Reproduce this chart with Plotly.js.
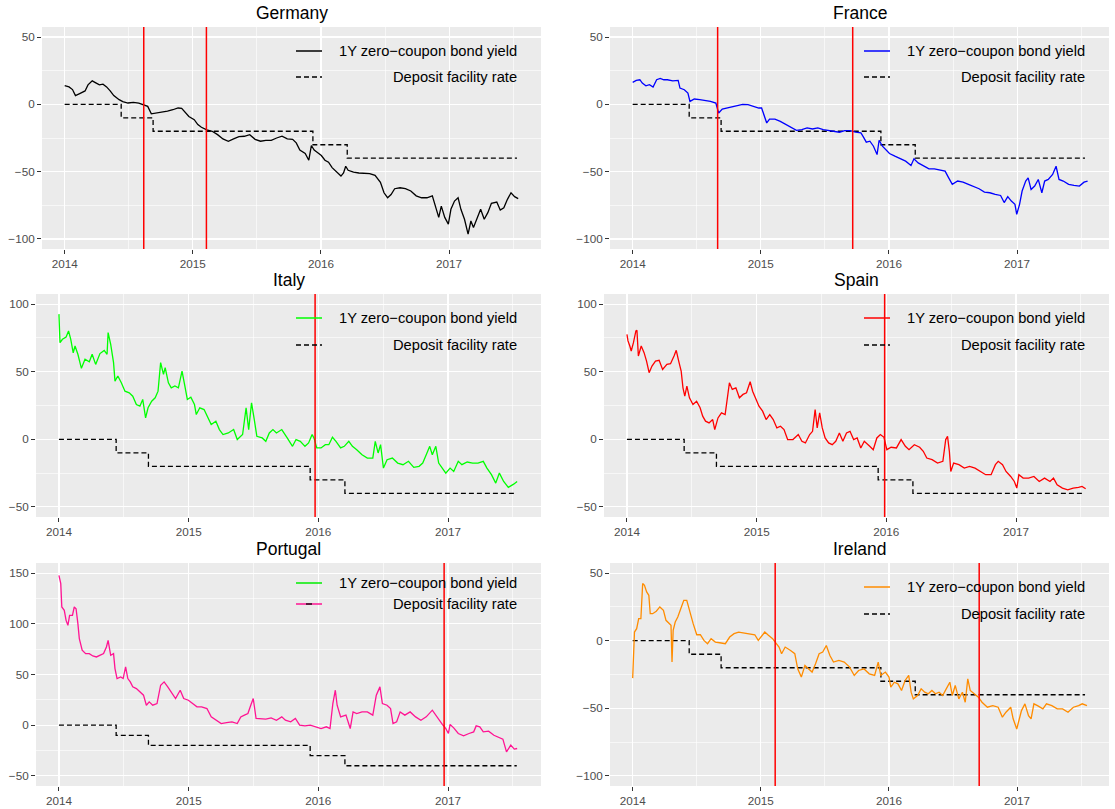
<!DOCTYPE html>
<html>
<head>
<meta charset="utf-8">
<script src="https://cdn.plot.ly/plotly-3.0.1.min.js"></script>
<style>html,body{margin:0;padding:0;background:#fff;}#chart{width:1115px;height:809px;}</style>
</head>
<body>
<div id="chart"></div>
<script>
// ---------------- DATA (x in decimal years) ----------------
const countries = ['Germany','France','Italy','Spain','Portugal','Ireland'];
const xTickVals = [2014, 2015, 2016, 2017];
const xTickText = ['2014', '2015', '2016', '2017'];
const xMinorVals = [2014.5, 2015.5, 2016.5, 2017.5];
const legendLabels = ['1Y zero\u2212coupon bond yield', 'Deposit facility rate'];

// ECB deposit facility rate (bp), step changes
const depX = [2014.0, 2014.441, 2014.690, 2015.937, 2016.205, 2017.53];
const depY = [0, -10, -20, -30, -40, -40];

// y-axis limits per country
const deLim = [-100, 50], frLim = [-100, 50], itLim = [-50, 100], esLim = [-50, 100], ptLim = [-50, 150], ieLim = [-100, 50];

// event dates (red vertical lines)
const deEvents = [2014.617, 2015.106];
const frEvents = [2014.663, 2015.717];
const itEvents = [2015.975];
const esEvents = [2015.987];
const ptEvents = [2016.970];
const ieEvents = [2015.112, 2016.704];

// Germany
const deX = [2014.000,2014.034,2014.061,2014.084,2014.117,2014.159,2014.182,2014.215,2014.243,2014.271,
2014.299,2014.327,2014.355,2014.383,2014.425,2014.453,2014.494,2014.536,2014.578,2014.620,
2014.648,2014.676,2014.718,2014.760,2014.802,2014.844,2014.885,2014.913,2014.941,2014.969,
2015.011,2015.039,2015.067,2015.109,2015.151,2015.193,2015.235,2015.277,2015.318,2015.360,
2015.402,2015.444,2015.486,2015.528,2015.570,2015.612,2015.654,2015.696,2015.737,2015.779,
2015.807,2015.835,2015.877,2015.905,2015.925,2015.947,2015.975,2016.003,2016.031,2016.059,
2016.087,2016.128,2016.156,2016.176,2016.193,2016.212,2016.254,2016.296,2016.338,2016.380,
2016.422,2016.464,2016.492,2016.520,2016.547,2016.575,2016.617,2016.659,2016.701,2016.743,
2016.785,2016.827,2016.869,2016.897,2016.919,2016.939,2016.966,2016.994,2017.014,2017.042,
2017.070,2017.092,2017.120,2017.148,2017.170,2017.190,2017.218,2017.246,2017.274,2017.302,
2017.330,2017.372,2017.399,2017.427,2017.455,2017.483,2017.511,2017.539];
const deY = [14,13,11,6.5,8,10,14.5,17.5,16,14.5,
15,13,10,6.5,3.5,2,1,1.5,1,-0.5,
-1.5,-7,-6.4,-6,-5,-4,-2.7,-3,-6.4,-9,
-11.4,-15,-17,-19,-20,-22.5,-25.7,-27.4,-25.7,-24,
-23.7,-22.5,-26,-27.4,-26.7,-26.7,-25,-23.7,-25.7,-26,
-28.6,-34,-36.5,-41.5,-30.6,-34,-36,-38,-41.5,-43,
-47,-51,-53.3,-51,-46,-49,-50.4,-51,-51,-51.4,
-52.8,-58,-65.7,-69.4,-67,-62.7,-62,-62.7,-64.4,-68,
-69.4,-69.4,-68,-76.8,-84,-75.6,-84,-89,-78,-71.9,
-69.4,-78,-85.4,-96.5,-86.7,-91.6,-85.4,-78,-85.4,-80.5,
-73.6,-72.6,-78.5,-76.8,-70.6,-65.7,-68.6,-70];

// France
const frX = [2014.000,2014.028,2014.056,2014.075,2014.103,2014.131,2014.159,2014.187,2014.215,2014.243,
2014.271,2014.313,2014.355,2014.369,2014.403,2014.431,2014.447,2014.481,2014.523,2014.565,
2014.607,2014.649,2014.671,2014.699,2014.732,2014.774,2014.816,2014.858,2014.900,2014.942,
2014.984,2015.006,2015.026,2015.046,2015.068,2015.110,2015.152,2015.194,2015.236,2015.278,
2015.320,2015.361,2015.403,2015.445,2015.487,2015.529,2015.571,2015.613,2015.655,2015.697,
2015.739,2015.781,2015.800,2015.823,2015.851,2015.879,2015.907,2015.923,2015.949,2015.977,
2016.004,2016.046,2016.088,2016.130,2016.172,2016.195,2016.228,2016.270,2016.312,2016.354,
2016.396,2016.438,2016.466,2016.494,2016.536,2016.578,2016.620,2016.661,2016.703,2016.745,
2016.787,2016.829,2016.871,2016.899,2016.927,2016.955,2016.983,2016.997,2017.019,2017.039,
2017.067,2017.086,2017.109,2017.137,2017.165,2017.193,2017.215,2017.243,2017.277,2017.304,
2017.327,2017.360,2017.402,2017.444,2017.486,2017.522,2017.550];
const frY = [16.3,17.8,18.3,15.8,13.8,14.6,12.8,18.3,19.3,18.3,
18.3,17.5,17.8,12.1,10.9,8.4,2.2,4,3.5,3,
2.2,1,-6.4,-3.5,-2.7,-2,-1,0,-0.2,-1.5,
-2.7,-2.7,-8.9,-13.8,-10.9,-10.9,-12.6,-15,-17,-19.3,
-18.8,-17.5,-18.3,-17.5,-18.8,-19.5,-20.5,-20.7,-19.5,-19.5,
-20.7,-21.2,-24.2,-28.1,-27.4,-31.1,-37.3,-26.7,-31.1,-34,
-36.5,-38.5,-40.5,-42.2,-45.4,-40.5,-43.5,-46,-47.9,-47.9,
-48.9,-49.6,-54.6,-59.5,-57,-57.8,-59.5,-61.2,-62.7,-65.2,
-65.7,-66.9,-67.7,-73,-68.6,-71.9,-74.3,-81.7,-74.3,-64.4,
-57,-54.6,-63.2,-60.7,-55.8,-65.7,-57,-55.8,-52.1,-46,
-55.8,-57,-59.5,-60.2,-60.7,-57.8,-57];

// Italy
const itX = [2014.000,2014.008,2014.027,2014.055,2014.074,2014.091,2014.110,2014.124,2014.146,2014.173,
2014.201,2014.234,2014.256,2014.283,2014.316,2014.349,2014.371,2014.379,2014.399,2014.421,
2014.432,2014.454,2014.481,2014.509,2014.542,2014.569,2014.597,2014.624,2014.646,2014.668,
2014.687,2014.715,2014.742,2014.764,2014.784,2014.806,2014.819,2014.844,2014.866,2014.894,
2014.921,2014.949,2014.971,2014.990,2015.017,2015.045,2015.059,2015.086,2015.119,2015.147,
2015.174,2015.210,2015.237,2015.265,2015.306,2015.347,2015.375,2015.416,2015.443,2015.463,
2015.485,2015.504,2015.526,2015.567,2015.595,2015.622,2015.650,2015.677,2015.718,2015.760,
2015.801,2015.828,2015.861,2015.897,2015.925,2015.952,2015.966,2015.988,2016.021,2016.054,
2016.081,2016.109,2016.136,2016.172,2016.200,2016.235,2016.263,2016.296,2016.337,2016.378,
2016.420,2016.439,2016.461,2016.480,2016.502,2016.530,2016.571,2016.612,2016.653,2016.695,
2016.736,2016.777,2016.805,2016.832,2016.859,2016.879,2016.906,2016.928,2016.956,2016.983,
2017.016,2017.044,2017.079,2017.107,2017.148,2017.190,2017.231,2017.272,2017.300,2017.335,
2017.368,2017.396,2017.429,2017.465,2017.506,2017.533];
const itY = [92.6,71.5,74,75.7,80.2,74,64,69,62.9,52.5,
59.2,57.4,62.9,55.4,63.4,65.8,62.9,79,70.3,56.7,
43,46.8,41.8,35.6,34.4,31.9,25.7,24.5,29.5,15.8,
23.3,28.2,30.7,35.6,56.7,48,53,41.8,38.1,39.4,
38.1,50.5,39.4,29.5,31.2,25.7,18.3,23.3,22,15.8,
10.9,13.4,7.2,3.5,4.7,7.2,-0.2,3.5,23.3,7.2,
27,15.8,2.2,1,-1.5,4.7,7.2,4.7,7.2,1,
-5.2,-0.2,-1.5,-5.2,-2.7,3.5,1,-6.4,-6.4,-4,
-4,1.5,-1.5,-6.4,-5.2,-1.5,-5.2,-7.7,-11.4,-13.9,
-13.9,-1.5,-10.1,-4,-21.3,-15.1,-13.9,-17.6,-18.8,-16.3,
-20.8,-20,-17.6,-11.4,-5.2,-11.4,-5.2,-17.6,-21.3,-25,
-21.3,-23.8,-16.3,-18.8,-16.8,-17.6,-17.6,-16.3,-21.3,-26.2,
-32.4,-25,-31.2,-35.6,-33.2,-31.2];

// Spain
const esX = [2014.000,2014.008,2014.022,2014.033,2014.050,2014.069,2014.077,2014.088,2014.110,2014.132,
2014.151,2014.171,2014.193,2014.220,2014.248,2014.275,2014.308,2014.336,2014.363,2014.380,
2014.399,2014.418,2014.432,2014.446,2014.462,2014.482,2014.509,2014.537,2014.564,2014.584,
2014.606,2014.633,2014.661,2014.677,2014.702,2014.729,2014.757,2014.771,2014.790,2014.812,
2014.840,2014.867,2014.895,2014.922,2014.950,2014.969,2014.991,2015.018,2015.046,2015.073,
2015.101,2015.128,2015.156,2015.184,2015.211,2015.239,2015.280,2015.321,2015.349,2015.376,
2015.409,2015.431,2015.451,2015.467,2015.486,2015.506,2015.528,2015.555,2015.583,2015.610,
2015.638,2015.665,2015.693,2015.720,2015.748,2015.775,2015.803,2015.830,2015.872,2015.899,
2015.927,2015.954,2015.982,2016.004,2016.037,2016.078,2016.114,2016.147,2016.175,2016.216,
2016.257,2016.285,2016.312,2016.353,2016.395,2016.436,2016.458,2016.472,2016.486,2016.497,
2016.519,2016.560,2016.601,2016.642,2016.684,2016.725,2016.766,2016.808,2016.841,2016.863,
2016.896,2016.923,2016.959,2016.987,2017.006,2017.022,2017.055,2017.097,2017.138,2017.179,
2017.220,2017.262,2017.289,2017.317,2017.358,2017.399,2017.441,2017.482,2017.509,2017.537];
const esY = [77.7,72.8,69,65.3,71.5,80.2,80.7,61.6,69,64.1,
57.9,49.3,54.2,57.9,58.4,51.7,55.4,55.9,61.6,65.8,
57.9,50.5,38.1,31.9,39.4,30.7,25.7,28.2,23.3,17.1,
13.4,12.1,14.6,7.2,15.8,19.6,18.3,28.2,41.8,36.9,
38.1,30.7,33.2,34.4,42.6,35.6,30.7,24.5,20.8,14.6,
18.3,14.6,8.4,9.7,7.2,-0.2,-0.2,3.5,-1.5,-2.7,
3.5,5.9,22,8.4,19.6,8.4,1,-2.7,-4,-1.5,
4.7,-1.5,4.7,5.9,-0.2,1,-6.4,-1.5,-5.2,-7.7,
1,3.5,1.5,-7.7,-5.9,-6.4,-0.2,-5.2,-7.7,-4,
-5.9,-8.9,-13.9,-15.1,-17.6,-16.3,-0.2,2.2,-8.9,-23.8,
-17.6,-18.8,-21.3,-20,-21.3,-23.8,-26.2,-26.2,-18.8,-16.3,
-18.8,-23.8,-27.5,-31.2,-36.1,-26.2,-28.7,-28.7,-27.5,-31.2,
-28.7,-31.2,-28.7,-33.7,-36.1,-37.4,-36.1,-35.6,-34.9,-36.6];

// Portugal
const ptX = [2014.000,2014.014,2014.022,2014.041,2014.055,2014.069,2014.082,2014.104,2014.118,2014.132,
2014.146,2014.157,2014.179,2014.206,2014.234,2014.261,2014.289,2014.316,2014.344,2014.366,
2014.379,2014.399,2014.421,2014.432,2014.448,2014.476,2014.495,2014.514,2014.531,2014.550,
2014.569,2014.597,2014.624,2014.652,2014.674,2014.696,2014.723,2014.756,2014.784,2014.811,
2014.839,2014.866,2014.899,2014.935,2014.962,2014.998,2015.031,2015.064,2015.100,2015.141,
2015.174,2015.210,2015.251,2015.292,2015.334,2015.375,2015.402,2015.430,2015.457,2015.479,
2015.498,2015.520,2015.553,2015.595,2015.636,2015.677,2015.718,2015.746,2015.787,2015.823,
2015.856,2015.897,2015.938,2015.980,2016.021,2016.062,2016.090,2016.112,2016.131,2016.145,
2016.172,2016.213,2016.246,2016.268,2016.296,2016.337,2016.378,2016.420,2016.447,2016.475,
2016.494,2016.530,2016.557,2016.576,2016.604,2016.631,2016.667,2016.708,2016.750,2016.791,
2016.832,2016.879,2016.914,2016.956,2016.983,2017.003,2017.016,2017.044,2017.079,2017.120,
2017.162,2017.198,2017.217,2017.245,2017.272,2017.313,2017.354,2017.396,2017.423,2017.451,
2017.484,2017.511,2017.533];
const ptY = [147.8,139.6,116.6,113.3,103.4,98.5,108.4,108.4,116.6,114.9,
100.2,85.4,73.9,70.6,70.6,68.3,67.3,69,70.6,77.2,
83.7,69,70.6,55.8,46,47.6,46,57.5,46,42.7,
37.8,36.1,32.8,29.6,19.7,23,19.7,21.3,39.4,42.7,
37.8,32.8,26.3,34.5,26.3,24.6,21.3,18.1,18.1,16.4,
8.2,4.9,1.6,2.6,3.3,1.6,8.2,9.9,11.5,19.7,
26.3,6.6,6.6,5.9,7.2,4.9,8.2,4.9,3.3,6.6,
0,-0.7,0,-1.6,-3.3,-1.6,-3.3,21.3,34.5,19.7,
8.2,9.9,-3.3,13.1,11.5,13.1,13.1,9.9,29.6,37.8,
21.3,19.7,16.4,1.6,3.3,13.1,9.9,13.1,8.2,4.9,
8.2,14.8,8.2,0.7,-3.3,-8.2,0.7,-2.6,-8.2,-10.5,
-8.2,-6.6,-0.7,-1.6,-6.6,-5.9,-9.9,-12.5,-13.8,-26.3,
-19.7,-23.6,-23];

// Ireland
const ieX = [2014.000,2014.006,2014.014,2014.031,2014.047,2014.064,2014.078,2014.092,2014.109,2014.126,
2014.137,2014.156,2014.184,2014.212,2014.240,2014.260,2014.282,2014.299,2014.307,2014.316,
2014.332,2014.352,2014.380,2014.399,2014.422,2014.444,2014.472,2014.500,2014.528,2014.556,
2014.584,2014.612,2014.645,2014.679,2014.723,2014.757,2014.791,2014.827,2014.869,2014.911,
2014.953,2014.980,2015.008,2015.031,2015.059,2015.092,2015.112,2015.142,2015.162,2015.190,
2015.232,2015.265,2015.288,2015.316,2015.344,2015.372,2015.400,2015.427,2015.455,2015.483,
2015.511,2015.539,2015.567,2015.609,2015.651,2015.693,2015.729,2015.763,2015.804,2015.846,
2015.888,2015.916,2015.936,2015.972,2016.000,2016.014,2016.042,2016.070,2016.098,2016.126,
2016.154,2016.173,2016.190,2016.223,2016.251,2016.279,2016.307,2016.335,2016.363,2016.391,
2016.419,2016.447,2016.475,2016.494,2016.517,2016.545,2016.573,2016.595,2016.615,2016.634,
2016.662,2016.698,2016.726,2016.768,2016.810,2016.852,2016.885,2016.913,2016.950,2016.969,
2016.997,2017.014,2017.034,2017.061,2017.089,2017.109,2017.131,2017.159,2017.201,2017.229,
2017.271,2017.313,2017.355,2017.397,2017.439,2017.480,2017.508,2017.545];
const ieY = [-27.7,-3.5,6.4,8.9,16.3,16.3,42.3,41,36.1,33.6,
20,20,21.8,25,22.5,15.1,12.6,11.4,-15.8,7.7,
13.8,17.6,25,29.9,29.9,21.3,12.6,4.4,4.4,0.2,
-2.2,1.5,-1,-1.5,-2.2,2.7,5.2,6.4,5.9,5.2,
4.4,0.2,4,6.4,4,1.5,-1,-4.7,-9.6,-4.7,
-7.2,-9.6,-20.8,-26.9,-18.3,-20.8,-23.2,-17.1,-9.6,-8.4,
-3.5,-10.9,-15.8,-14.6,-15.8,-19.5,-25.7,-22,-20.8,-24.5,
-25.7,-15.8,-25.7,-23.2,-26.9,-34.4,-30.7,-31.9,-36.8,-29.4,
-25.7,-38.1,-43,-40.5,-35.6,-38.1,-39.3,-36.8,-39.3,-38.1,
-40.5,-35.6,-30.7,-40.5,-33.1,-43,-38.1,-45.5,-28.2,-36.8,
-39.3,-41.8,-45.5,-49.2,-48,-49.2,-56.6,-52.9,-49.2,-57.8,
-65.3,-59.1,-51.7,-46.7,-55.4,-57.8,-46.7,-48,-50.4,-46.7,
-48,-50.4,-50.4,-52.9,-49.2,-48,-46.7,-48];

// ---------------- LAYOUT / STYLE ----------------
const W = 1115, H = 809;
const FONT = 'Liberation Sans, Arial, Helvetica, sans-serif';
const panels = [
  {x: deX, y: deY, lim: deLim, ev: deEvents, color: '#000000', px: [42, 541], py: [27, 249], rows: [24, 50], keys: ['#000000', '#000000']},
  {x: frX, y: frY, lim: frLim, ev: frEvents, color: '#0000FF', px: [610, 1109], py: [27, 249], rows: [24, 50], keys: ['#0000FF', '#000000']},
  {x: itX, y: itY, lim: itLim, ev: itEvents, color: '#00FF00', px: [36, 541], py: [294, 517], rows: [24, 51], keys: ['#00FF00', '#000000']},
  {x: esX, y: esY, lim: esLim, ev: esEvents, color: '#FF0000', px: [604, 1109], py: [294, 517], rows: [24, 51], keys: ['#FF0000', '#000000']},
  {x: ptX, y: ptY, lim: ptLim, ev: ptEvents, color: '#FF1493', px: [36, 541], py: [563, 786], rows: [20, 41], keys: ['#00EE00', '#FF1493'], pt: true},
  {x: ieX, y: ieY, lim: ieLim, ev: ieEvents, color: '#FF8C00', px: [610, 1109], py: [563, 786], rows: [24, 51], keys: ['#FF8C00', '#000000']}
];

const traces = [];
const shapes = [];
const annotations = [];
const layout = {
  width: W, height: H,
  margin: {l: 0, r: 0, t: 0, b: 0},
  paper_bgcolor: '#FFFFFF',
  plot_bgcolor: '#EBEBEB',
  showlegend: false,
  font: {family: FONT, color: '#4D4D4D', size: 12}
};

const xRange = [2013.823, 2017.717];

panels.forEach((p, i) => {
  const n = i + 1;
  const xa = n === 1 ? 'x' : 'x' + n;
  const ya = n === 1 ? 'y' : 'y' + n;
  const xk = n === 1 ? 'xaxis' : 'xaxis' + n;
  const yk = n === 1 ? 'yaxis' : 'yaxis' + n;
  const span = p.lim[1] - p.lim[0];
  const yRange = [p.lim[0] - 0.05 * span, p.lim[1] + 0.05 * span];
  const yMaj = [];
  for (let v = p.lim[0]; v <= p.lim[1]; v += 50) yMaj.push(v);
  const yMin = yMaj.slice(0, -1).map(v => v + 25);

  layout[xk] = {
    domain: [p.px[0] / W, p.px[1] / W], anchor: ya, range: xRange,
    tickmode: 'array', tickvals: xTickVals, ticktext: xTickText,
    ticks: 'outside', ticklen: 4, tickwidth: 1, tickcolor: '#333333',
    tickfont: {family: FONT, size: 11.7, color: '#4D4D4D'},
    showgrid: true, gridcolor: '#FFFFFF', gridwidth: 1.2,
    zeroline: false, showline: false, fixedrange: true,
    minor: {tickmode: 'array', tickvals: xMinorVals, showgrid: true, gridcolor: '#FFFFFF', gridwidth: 0.6, ticks: ''}
  };
  layout[yk] = {
    domain: [1 - p.py[1] / H, 1 - p.py[0] / H], anchor: xa, range: yRange,
    tickmode: 'array', tickvals: yMaj,
    ticks: 'outside', ticklen: 4, tickwidth: 1, tickcolor: '#333333',
    tickfont: {family: FONT, size: 11.7, color: '#4D4D4D'},
    showgrid: true, gridcolor: '#FFFFFF', gridwidth: 1.2,
    zeroline: false, showline: false, fixedrange: true,
    minor: {tickmode: 'array', tickvals: yMin, showgrid: true, gridcolor: '#FFFFFF', gridwidth: 0.6, ticks: ''}
  };

  // deposit facility rate (dashed step)
  traces.push({
    type: 'scatter', mode: 'lines', x: depX, y: depY, xaxis: xa, yaxis: ya,
    line: {color: '#000000', width: 1.3, dash: '5px,3px', shape: 'hv'}, hoverinfo: 'skip'
  });
  // yield
  traces.push({
    type: 'scatter', mode: 'lines', x: p.x, y: p.y, xaxis: xa, yaxis: ya,
    line: {color: p.color, width: 1.3}, hoverinfo: 'skip'
  });
  // event lines
  p.ev.forEach(v => {
    shapes.push({type: 'line', xref: xa, yref: ya + ' domain', x0: v, x1: v, y0: 0, y1: 1,
      line: {color: '#FF0000', width: 1.5}, layer: 'above'});
  });

  // title
  annotations.push({
    text: countries[i], xref: 'paper', yref: 'paper',
    x: (p.px[0] + p.px[1]) / 2 / W, y: 1 - (p.py[0] - 14) / H,
    xanchor: 'center', yanchor: 'middle', showarrow: false,
    font: {family: FONT, size: 17.5, color: '#000000'}
  });

  // manual legend (text right aligned)
  const right = p.px[1];
  const k0 = (right - 245) / W, k1 = (right - 219) / W;
  p.rows.forEach((r, j) => {
    const yy = 1 - (p.py[0] + r) / H;
    if (j === 0) {
      shapes.push({type: 'line', xref: 'paper', yref: 'paper', x0: k0, x1: k1, y0: yy, y1: yy,
        line: {color: p.keys[0], width: 1.5}, layer: 'above'});
    } else if (p.pt) {
      shapes.push({type: 'line', xref: 'paper', yref: 'paper', x0: k0, x1: k1, y0: yy, y1: yy,
        line: {color: p.keys[1], width: 1.5}, layer: 'above'});
      shapes.push({type: 'line', xref: 'paper', yref: 'paper', x0: (right - 235) / W, x1: (right - 229) / W, y0: yy, y1: yy,
        line: {color: '#000000', width: 1.3}, layer: 'above'});
    } else {
      shapes.push({type: 'line', xref: 'paper', yref: 'paper', x0: k0, x1: k1, y0: yy, y1: yy,
        line: {color: p.keys[1], width: 1.5, dash: '5px,3px'}, layer: 'above'});
    }
    annotations.push({
      text: legendLabels[j], xref: 'paper', yref: 'paper',
      x: (right - 22) / W, y: yy, xanchor: 'right', yanchor: 'middle', showarrow: false,
      font: {family: FONT, size: 14.7, color: '#000000'}
    });
  });
});

layout.shapes = shapes;
layout.annotations = annotations;

Plotly.newPlot('chart', traces, layout, {displayModeBar: false, staticPlot: true});
</script>
</body>
</html>
